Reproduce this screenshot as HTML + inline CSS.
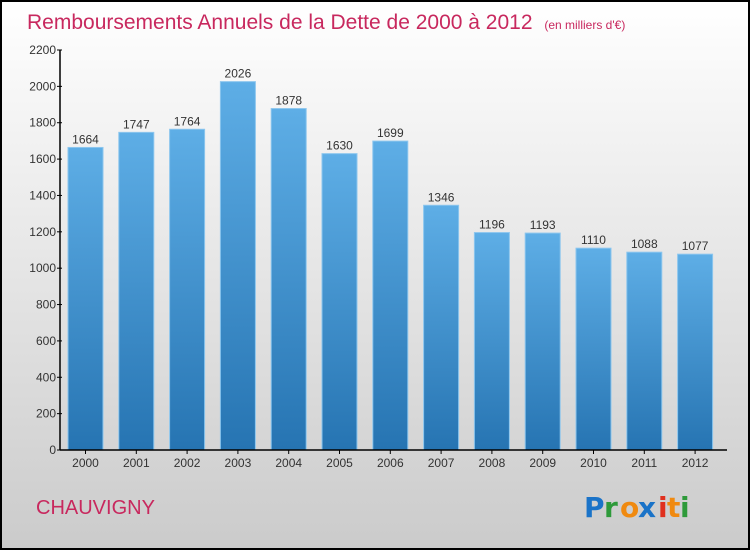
<!DOCTYPE html>
<html><head><meta charset="utf-8"><style>
html,body{margin:0;padding:0}
body{width:750px;height:550px;overflow:hidden;font-family:"Liberation Sans",sans-serif}
</style></head><body>
<svg width="750" height="550" xmlns="http://www.w3.org/2000/svg">
<defs>
<linearGradient id="bg" x1="0" y1="0" x2="0" y2="1"><stop offset="0" stop-color="#ffffff"/><stop offset="1" stop-color="#cbcbcb"/></linearGradient>
<linearGradient id="bar" x1="0" y1="0" x2="0" y2="1"><stop offset="0" stop-color="#5eaee6"/><stop offset="1" stop-color="#2674b2"/></linearGradient>
</defs>
<rect x="1" y="1" width="748" height="548" fill="url(#bg)" stroke="#000" stroke-width="2"/>
<text x="27" y="29" font-size="21" fill="#c8285e">Remboursements Annuels de la Dette de 2000 à 2012 <tspan font-size="12" dx="6">(en milliers d'€)</tspan></text>
<g id="plot"></g>
<text x="36" y="514" font-size="20" fill="#c8285e">CHAUVIGNY</text>
<g font-size="28" font-family="'DejaVu Sans',sans-serif" font-weight="bold">
<text x="584" y="517" fill="#1a73c8">P</text><text x="604" y="517" fill="#2e9a3a">r</text><text x="620" y="517" fill="#f08a10">o</text><text x="638" y="517" fill="#1a73c8">x</text><text x="658" y="517" fill="#e0301e">i</text><text x="667" y="517" fill="#f08a10">t</text><text x="680" y="517" fill="#2e9a3a">i</text>
</g>
</svg>
<script>
const categories=["2000","2001","2002","2003","2004","2005","2006","2007","2008","2009","2010","2011","2012"];
const values=[1664,1747,1764,2026,1878,1630,1699,1346,1196,1193,1110,1088,1077];
const yTicks=[0,200,400,600,800,1000,1200,1400,1600,1800,2000,2200];
const NS="http://www.w3.org/2000/svg";
const g=document.getElementById('plot');
const x0=60,yTop=50,yBot=450,yMax=2200,step=50.8,bw=35,first=68;
const y=v=>yBot-(v/yMax)*(yBot-yTop);
const xb=i=>first+i*step;
function mk(t,a,txt){const e=document.createElementNS(NS,t);for(const k in a)e.setAttribute(k,a[k]);if(txt!==undefined)e.textContent=txt;g.appendChild(e);return e;}
values.forEach((v,i)=>{
 const r=mk('rect',{x:xb(i),y:y(v),width:bw,height:yBot-y(v),fill:'url(#bar)',stroke:'#8cc6ee','stroke-width':1});
 
 
 const l=mk('text',{x:xb(i)+bw/2,y:y(v)-4,'text-anchor':'middle','font-size':12,fill:'#333'},String(v));
 
 
 const c=mk('text',{x:xb(i)+bw/2,y:467,'text-anchor':'middle','font-size':12,fill:'#333'},categories[i]);
 
 
 mk('line',{x1:xb(i)+bw/2,x2:xb(i)+bw/2,y1:yBot,y2:yBot+4,stroke:'#000'});
});
yTicks.forEach(t=>{
 mk('line',{x1:x0-3,x2:x0+2,y1:y(t),y2:y(t),stroke:'#000'});
 const l=mk('text',{x:x0-4,y:y(t)+4,'text-anchor':'end','font-size':12,fill:'#333'},String(t));
 
 
});
const ya=mk('line',{x1:x0,x2:x0,y1:yTop,y2:yBot,stroke:'#000','stroke-width':1.5});


const xa=mk('line',{x1:x0,x2:727,y1:yBot,y2:yBot,stroke:'#000','stroke-width':1.5});


</script>
</body></html>
